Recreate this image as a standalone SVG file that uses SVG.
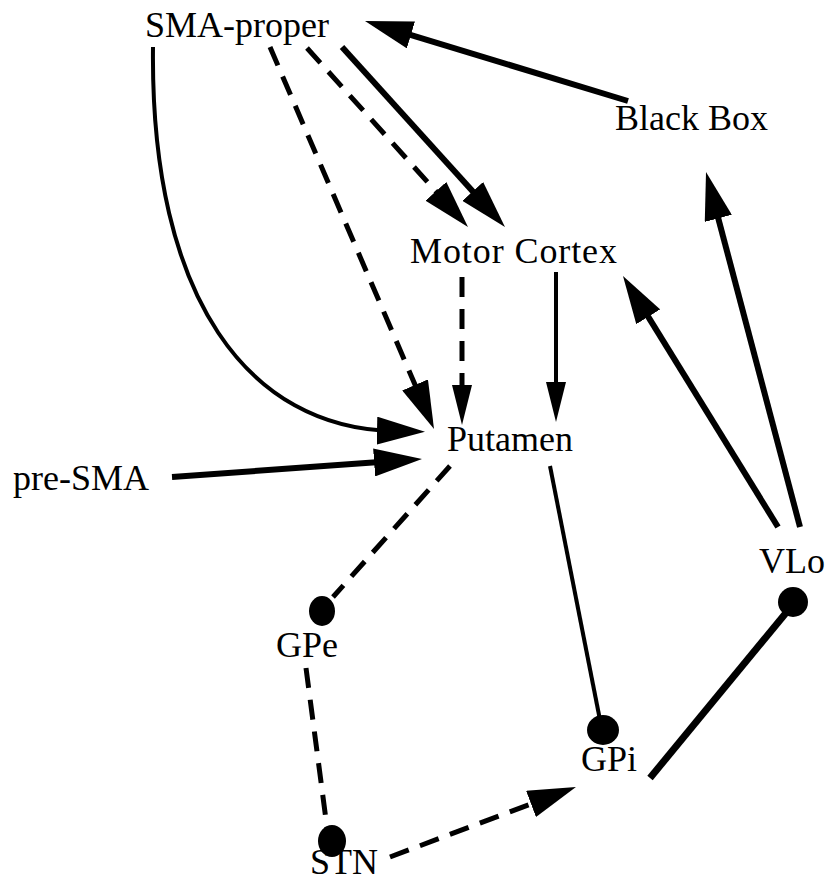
<svg xmlns="http://www.w3.org/2000/svg" width="827" height="882" viewBox="0 0 827 882">
<style>
text{font-family:"Liberation Serif","Times New Roman",serif;font-size:36px;fill:#000}
.s{fill:none;stroke:#000;stroke-width:6}
.t{fill:none;stroke:#000;stroke-width:4}
.d{fill:none;stroke:#000;stroke-width:5;stroke-dasharray:20 12}
.big{marker-end:url(#big)}
.mid{marker-end:url(#mid)}
.dot{fill:#000}
</style>
<defs>
<marker id="big" viewBox="0 0 48 28" refX="16" refY="14" markerWidth="48" markerHeight="28" markerUnits="userSpaceOnUse" orient="auto"><path d="M0,0 L48,14 L0,28 z" fill="#000"/></marker>
<marker id="mid" viewBox="0 0 40 20" refX="14" refY="10" markerWidth="40" markerHeight="20" markerUnits="userSpaceOnUse" orient="auto"><path d="M0,0 L40,10 L0,20 z" fill="#000"/></marker>
</defs>
<rect width="827" height="882" fill="#fff"/>
<g id="connectors">
<path class="s big" d="M628,101 L395.6,30.3"/>
<path class="s big" d="M342,47 L483.5,203.3"/>
<path class="d big" d="M307,48 L446.6,203.2"/>
<path class="d big" d="M270,47 L421.4,399.6"/>
<path class="t big" d="M153,47 C150,300 250,428 393,431"/>
<path class="s big" d="M172,477 L390.1,461.3"/>
<path class="d mid" d="M462,277 L462,399"/>
<path class="t mid" d="M556,272 L556,396"/>
<path class="s big" d="M778,527 L639.8,303.2"/>
<path class="s big" d="M800,527 L714.2,202.9"/>
<path class="d" d="M450,466 L333,597"/>
<path class="t" d="M550,466 L600,720"/>
<path class="s" style="stroke-width:7" d="M650,778 L790,608"/>
<path class="d" d="M306,668 L328,835"/>
<path class="d big" d="M390,857 L546,798.3"/>
</g>
<g id="sma-proper"><text x="145" y="37">SMA-proper</text></g>
<g id="black-box"><text x="615" y="130">Black Box</text></g>
<g id="motor-cortex"><text x="410" y="263" textLength="207" lengthAdjust="spacing">Motor Cortex</text></g>
<g id="putamen"><text x="447" y="451">Putamen</text></g>
<g id="pre-sma"><text x="13" y="490">pre-SMA</text></g>
<g id="vlo"><ellipse class="dot" cx="793" cy="602" rx="15" ry="15"/><text x="759" y="573">VLo</text></g>
<g id="gpe"><ellipse class="dot" cx="322" cy="611" rx="13" ry="15"/><text x="276" y="657">GPe</text></g>
<g id="gpi"><ellipse class="dot" cx="603" cy="730" rx="16" ry="15"/><text x="581" y="771">GPi</text></g>
<g id="stn"><ellipse class="dot" cx="332" cy="841" rx="14" ry="16"/><text x="310" y="874">STN</text></g>
</svg>
